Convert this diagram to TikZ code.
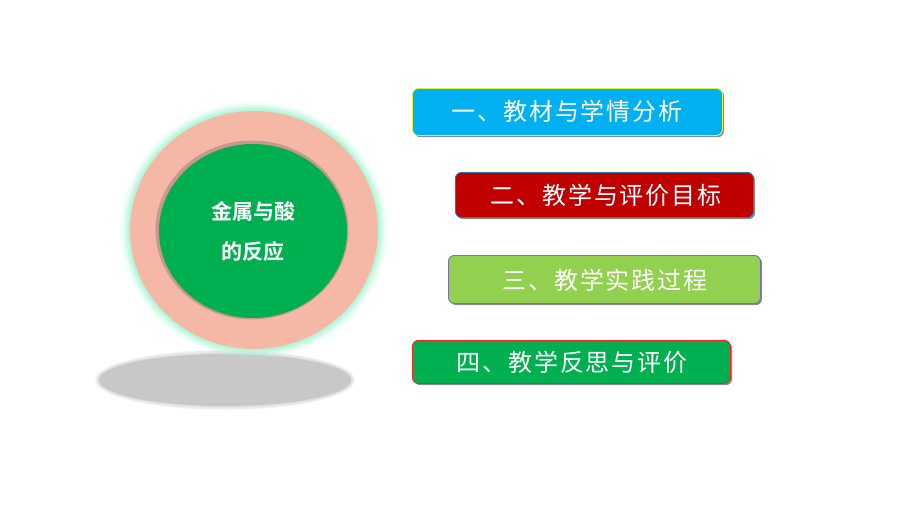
\documentclass[tikz,border=0pt]{standalone}
\usepackage{fontspec}
\newfontfamily\cjk[LetterSpace=8]{Noto Sans CJK SC}
\newfontfamily\cjkb{Noto Sans CJK SC Bold}
\usetikzlibrary{shapes.geometric,shadows}
\definecolor{glow}{HTML}{A8F5D2}
\definecolor{salmon}{HTML}{F5B8A6}
\definecolor{ringdark}{HTML}{B98A85}
\definecolor{mgreen}{HTML}{00B050}
\definecolor{mcyan}{HTML}{00B0F0}
\definecolor{mred}{HTML}{C00000}
\definecolor{lgreen}{HTML}{92D050}
\definecolor{byellow}{HTML}{E4F03C}
\definecolor{bblue}{HTML}{2E75B6}
\definecolor{bpurple}{HTML}{7F6FA8}
\definecolor{bred}{HTML}{FF2020}
\definecolor{shadowgray}{HTML}{C8C8C8}
\tikzset{
  menubox/.style={rectangle, rounded corners=6pt, line width=0.9pt, anchor=north west,
    inner sep=0pt,
    drop shadow={shadow xshift=1.6pt, shadow yshift=-1.6pt, fill=black, opacity=0.45}},
  menutext/.style={font=\cjk\fontsize{24}{26}\selectfont, text=white, inner sep=0pt},
}
\begin{document}
\begin{tikzpicture}[x=1pt,y=-1pt]
\useasboundingbox (0,0) rectangle (900,506);
% ground shadow
\foreach \k in {4,3,2,1}{
  \fill[shadowgray, opacity=0.2] (225,380) ellipse [x radius=126pt+\k pt, y radius=26pt+\k pt];
}
\node[ellipse, fill=shadowgray, minimum width=252pt, minimum height=52pt, inner sep=0pt] (shadow) at (225,380) {};
% glow
\foreach \k/\o in {10/0.08,8/0.15,6/0.25,4/0.4,2/0.6}{
  \fill[glow, opacity=\o] (254,230) ellipse [x radius=124pt+\k pt, y radius=119pt+\k pt];
}
\node[ellipse, fill=salmon, minimum width=248pt, minimum height=238pt, inner sep=0pt] (ring) at (254,230) {};
\node[ellipse, fill=ringdark, opacity=0.7, minimum width=193pt, minimum height=179pt, inner sep=0pt] (inner shade) at (252,230) {};
\node[ellipse, fill=mgreen, minimum width=188pt, minimum height=174pt, inner sep=0pt,
  text=white, align=center, font=\cjkb\fontsize{21}{40}\selectfont] (core) at (253,231) {金属与酸\\的反应};
% menu boxes
\node[menubox, draw=byellow, fill=mcyan, minimum width=310pt, minimum height=47pt] (b1) at (412,88) {};
\node[menutext] (t1) at (567,111) {一、教材与学情分析};
\node[menubox, draw=bblue, fill=mred, minimum width=298pt, minimum height=45pt] (b2) at (455,172) {};
\node[menutext] (t2) at (606,195) {二、教学与评价目标};
\node[menubox, draw=bpurple, fill=lgreen, minimum width=312pt, minimum height=48pt] (b3) at (448,255) {};
\node[menutext] (t3) at (605,280) {三、教学实践过程};
\node[menubox, draw=bred, fill=mgreen, minimum width=318pt, minimum height=43pt] (b4) at (412,340) {};
\node[menutext] (t4) at (572,362) {四、教学反思与评价};
\end{tikzpicture}
\end{document}
